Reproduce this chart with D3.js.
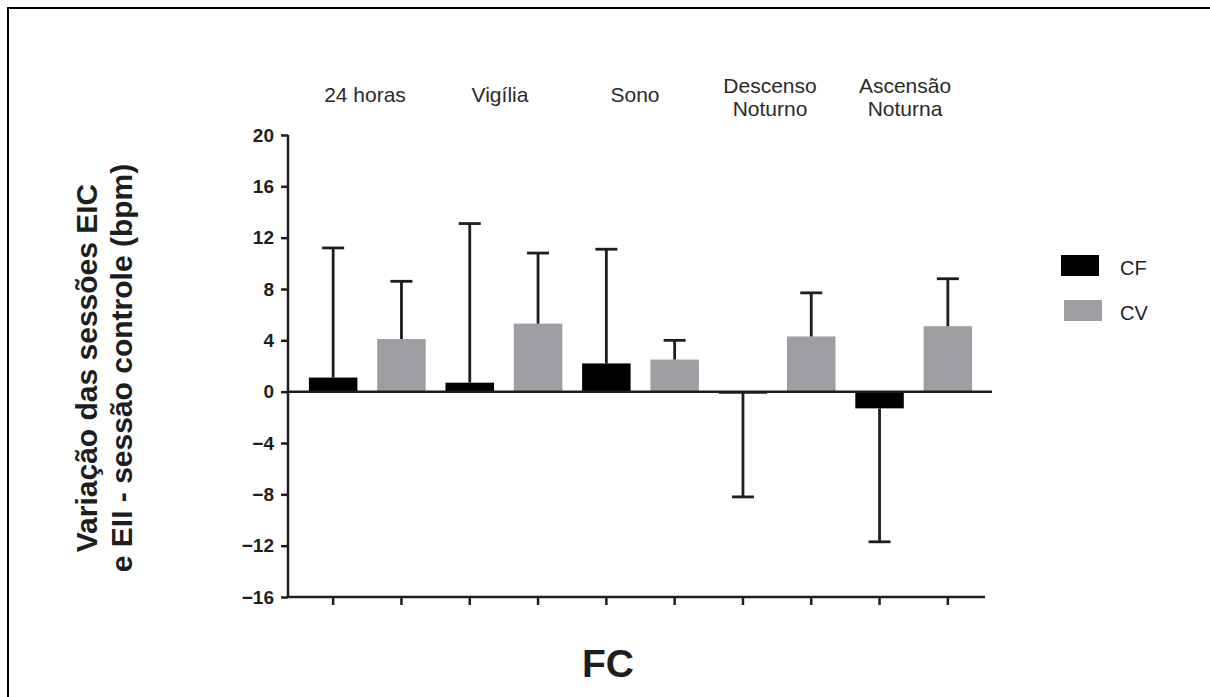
<!DOCTYPE html>
<html>
<head>
<meta charset="utf-8">
<script src="https://cdn.jsdelivr.net/npm/d3@7"></script>
<style>
  body { margin: 0; background: #fff; }
  svg text { font-family: "Liberation Sans", Arial, sans-serif; }
</style>
</head>
<body>
<div class="canvas"></div>
<script>
// data
const categories = ["24 horas", "Vigília", "Sono", "Descenso Noturno", "Ascensão Noturna"];
const series = ["CF", "CV"];
const cfValues = [1.1, 0.7, 2.2, -0.1, -1.3];
const cfErrors = [10.1, 12.4, 8.9, 8.1, 10.4];
const cvValues = [4.1, 5.3, 2.5, 4.3, 5.1];
const cvErrors = [4.5, 5.5, 1.5, 3.4, 3.7];
const yTicks = [-16, -12, -8, -4, 0, 4, 8, 12, 16, 20];

// dimensions
const w = 1210;
const h = 697;
const axisLeft = 288;
const axisRight = 988;
const barsLeft = 299;
const barsRight = 982;
const yTop = 135;
const yBottom = 597;

const colors = { CF: "#000000", CV: "#9e9ea2" };
const ink = "#1e1e1e";

const svg = d3.select(".canvas").append("svg").attr("width", w).attr("height", h);

// frame (right and bottom edges run off the page)
svg
  .append("rect")
  .attr("x", 8)
  .attr("y", 8)
  .attr("width", 1400)
  .attr("height", 900)
  .attr("fill", "none")
  .attr("stroke", "#000")
  .attr("stroke-width", 2);

// flatten to one bar per category/series
const bars = [];
categories.forEach((c, i) => {
  bars.push({ key: c + "-CF", cat: c, s: "CF", v: cfValues[i], e: cfErrors[i] });
  bars.push({ key: c + "-CV", cat: c, s: "CV", v: cvValues[i], e: cvErrors[i] });
});

// scales
const x = d3
  .scaleBand()
  .domain(bars.map((d) => d.key))
  .range([barsLeft, barsRight])
  .paddingInner(0.29)
  .paddingOuter(0.145);
const y = d3.scaleLinear().domain([-16, 20]).range([yBottom, yTop]);

// group labels above the plot
const labelX = d3.scalePoint().domain(categories).range([365, 905]);
const labels = svg
  .append("g")
  .selectAll("text")
  .data(categories)
  .enter()
  .append("text")
  .attr("text-anchor", "middle")
  .attr("font-size", 21)
  .attr("fill", "#2a2a2a");
labels.each(function (d) {
  const parts = d.split(" ");
  const lines = d === "24 horas" ? [d] : parts;
  const t = d3.select(this);
  lines.forEach((p, i) => {
    t.append("tspan")
      .attr("x", labelX(d))
      .attr("y", lines.length === 1 ? 102 : 93 + i * 23)
      .text(p);
  });
});

// bars
svg
  .append("g")
  .selectAll("rect")
  .data(bars)
  .enter()
  .append("rect")
  .attr("x", (d) => x(d.key))
  .attr("width", x.bandwidth())
  .attr("y", (d) => y(Math.max(0, d.v)))
  .attr("height", (d) => Math.max(2, Math.abs(y(d.v) - y(0))))
  .attr("fill", (d) => colors[d.s]);

// error bars (one-sided, away from zero)
const capW = 22;
const err = svg.append("g").attr("stroke", ink).attr("stroke-width", 2.8);
bars.forEach((d) => {
  const cx = x(d.key) + x.bandwidth() / 2;
  const end = d.v >= 0 ? d.v + d.e : d.v - d.e;
  err.append("line").attr("x1", cx).attr("x2", cx).attr("y1", y(d.v)).attr("y2", y(end));
  err
    .append("line")
    .attr("x1", cx - capW / 2)
    .attr("x2", cx + capW / 2)
    .attr("y1", y(end))
    .attr("y2", y(end));
});

// zero line
svg
  .append("line")
  .attr("x1", axisLeft)
  .attr("x2", axisRight + 4)
  .attr("y1", y(0))
  .attr("y2", y(0))
  .attr("stroke", ink)
  .attr("stroke-width", 2.5);

// y axis
const yAxis = svg
  .append("g")
  .attr("transform", `translate(${axisLeft},0)`)
  .call(d3.axisLeft(y).tickValues(yTicks).tickSize(7).tickPadding(7));
yAxis.select(".domain").attr("stroke", ink).attr("stroke-width", 2.5).attr("d", `M0,${yTop}V${yBottom}`);
yAxis.selectAll(".tick line").attr("stroke", ink).attr("stroke-width", 2.5);
yAxis
  .selectAll(".tick text")
  .attr("font-size", 19)
  .attr("font-weight", "bold")
  .attr("font-family", "Liberation Sans, Arial, sans-serif")
  .attr("fill", ink);

// x axis at the bottom, ticks only
const xAxis = svg
  .append("g")
  .attr("transform", `translate(0,${yBottom})`)
  .call(d3.axisBottom(x).tickSize(8).tickFormat(""));
xAxis.select(".domain").attr("stroke", ink).attr("stroke-width", 2.5).attr("d", `M${axisLeft},0H${axisRight - 3}`);
xAxis.selectAll(".tick line").attr("stroke", ink).attr("stroke-width", 2.5);

// y axis title
const yTitle = svg
  .append("text")
  .attr("transform", "translate(97,368) rotate(-90)")
  .attr("text-anchor", "middle")
  .attr("font-size", 30)
  .attr("font-weight", "bold")
  .attr("fill", ink);
yTitle.append("tspan").attr("x", 0).attr("y", 0).text("Variação das sessões EIC");
yTitle.append("tspan").attr("x", 0).attr("y", 35).text("e EII - sessão controle (bpm)");

// x axis title
svg
  .append("text")
  .attr("x", 608)
  .attr("y", 677)
  .attr("text-anchor", "middle")
  .attr("font-size", 39)
  .attr("font-weight", "bold")
  .attr("fill", ink)
  .text("FC");

// legend
const legend = svg
  .append("g")
  .selectAll("g")
  .data(series)
  .enter()
  .append("g")
  .attr("transform", (d, i) => `translate(${1061 + i * 3},${255 + i * 45})`);
legend
  .append("rect")
  .attr("width", 38)
  .attr("height", 21)
  .attr("fill", (d) => colors[d]);
legend
  .append("text")
  .attr("x", (d, i) => 59 - i * 3)
  .attr("y", 20)
  .attr("font-size", 20)
  .attr("font-family", "Open Sans, sans-serif")
  .attr("fill", "#222")
  .text((d) => d);
</script>
</body>
</html>
